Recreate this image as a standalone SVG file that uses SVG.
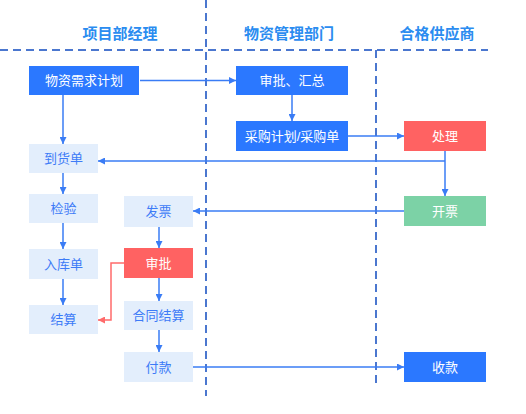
<svg xmlns="http://www.w3.org/2000/svg" width="526" height="414" viewBox="0 0 526 414">
<defs>
<style>
.t{font-family:"Liberation Sans","Noto Sans CJK SC",sans-serif;font-size:13px;text-anchor:middle;dominant-baseline:central}
.h{font-family:"Liberation Sans","Noto Sans CJK SC",sans-serif;font-size:15px;font-weight:bold;fill:#2a8cf0;text-anchor:middle;dominant-baseline:central}
.w{fill:#ffffff}
.b{fill:#3d7bf7}
.blue{fill:#2b78ff}
.light{fill:#e3eefc}
.red{fill:#ff6262}
.green{fill:#7cd2a6}
.dash{stroke:#4b77cf;stroke-width:2;stroke-dasharray:8 5;fill:none}
.c{stroke:#3a7cf5;stroke-width:1.5;fill:none}
.cr{stroke:#ff6b6b;stroke-width:1.5;fill:none}
</style>
<marker id="a" viewBox="0 0 10 10" refX="10" refY="5" markerWidth="7" markerHeight="7" orient="auto" markerUnits="userSpaceOnUse"><path d="M0,0 L10,5 L0,10 Z" fill="#3a7cf5"/></marker>
<marker id="ar" viewBox="0 0 10 10" refX="10" refY="5" markerWidth="7" markerHeight="7" orient="auto" markerUnits="userSpaceOnUse"><path d="M0,0 L10,5 L0,10 Z" fill="#ff6b6b"/></marker>
</defs>
<rect width="526" height="414" fill="#ffffff"/>
<g id="lanes">
<line class="dash" x1="0" y1="50" x2="488" y2="50"/>
<line class="dash" x1="206" y1="0" x2="206" y2="396"/>
<line class="dash" x1="376" y1="50" x2="376" y2="386"/>
<text class="h" x="120" y="33">项目部经理</text>
<text class="h" x="289" y="33">物资管理部门</text>
<text class="h" x="437" y="33">合格供应商</text>
</g>
<g id="connectors">
<path class="c" d="M140,80.5 H236" marker-end="url(#a)"/>
<path class="c" d="M63,95 V144" marker-end="url(#a)"/>
<path class="c" d="M292,95 V121" marker-end="url(#a)"/>
<path class="c" d="M348,136 H404" marker-end="url(#a)"/>
<path class="c" d="M445,151 V196" marker-end="url(#a)"/>
<path class="c" d="M445,161 H98" marker-end="url(#a)"/>
<path class="c" d="M63,173 V194" marker-end="url(#a)"/>
<path class="c" d="M63,223 V249" marker-end="url(#a)"/>
<path class="c" d="M63,279 V305" marker-end="url(#a)"/>
<path class="c" d="M404,211 H193" marker-end="url(#a)"/>
<path class="c" d="M159,227 V248" marker-end="url(#a)"/>
<path class="c" d="M159,278 V301" marker-end="url(#a)"/>
<path class="c" d="M159,330 V352" marker-end="url(#a)"/>
<path class="c" d="M193,367 H404" marker-end="url(#a)"/>
<path class="cr" d="M124,263 H111 V320 H98" marker-end="url(#ar)"/>
</g>
<g id="n1"><rect class="blue" x="29" y="66" width="110" height="29"/><text class="t w" x="84" y="80.5">物资需求计划</text></g>
<g id="n2"><rect class="blue" x="236" y="66" width="112" height="29"/><text class="t w" x="292" y="80.5">审批、汇总</text></g>
<g id="n3"><rect class="blue" x="236" y="121" width="112" height="30"/><text class="t w" x="292" y="136">采购计划/采购单</text></g>
<g id="n4"><rect class="red" x="404" y="121" width="82" height="30"/><text class="t w" x="445" y="136">处理</text></g>
<g id="n5"><rect class="light" x="29" y="144" width="69" height="29"/><text class="t b" x="63.5" y="158.5">到货单</text></g>
<g id="n6"><rect class="green" x="404" y="196" width="82" height="30"/><text class="t w" x="445" y="211">开票</text></g>
<g id="n7"><rect class="light" x="29" y="194" width="69" height="29"/><text class="t b" x="63.5" y="208.5">检验</text></g>
<g id="n8"><rect class="light" x="124" y="196" width="69" height="31"/><text class="t b" x="158.5" y="211.5">发票</text></g>
<g id="n9"><rect class="light" x="29" y="249" width="69" height="30"/><text class="t b" x="63.5" y="264">入库单</text></g>
<g id="n10"><rect class="red" x="124" y="248" width="69" height="30"/><text class="t w" x="158.5" y="263">审批</text></g>
<g id="n11"><rect class="light" x="29" y="305" width="69" height="29"/><text class="t b" x="63.5" y="319.5">结算</text></g>
<g id="n12"><rect class="light" x="124" y="301" width="69" height="29"/><text class="t b" x="158.5" y="315.5">合同结算</text></g>
<g id="n13"><rect class="light" x="124" y="352" width="69" height="30"/><text class="t b" x="158.5" y="367">付款</text></g>
<g id="n14"><rect class="blue" x="404" y="352" width="82" height="30"/><text class="t w" x="445" y="367">收款</text></g>
</svg>
